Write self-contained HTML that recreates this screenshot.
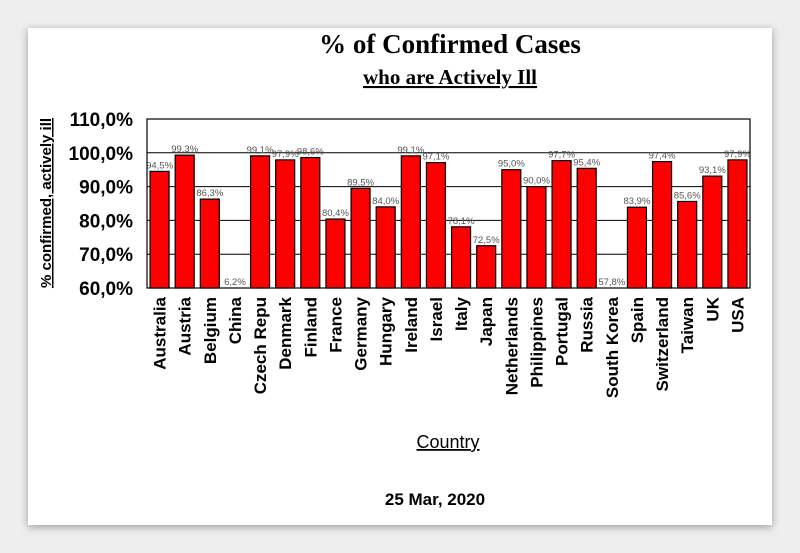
<!DOCTYPE html>
<html><head><meta charset="utf-8"><style>
html,body{margin:0;padding:0;background:#eeeeee;width:800px;height:553px;overflow:hidden}
#card{position:absolute;left:28px;top:28px;width:744px;height:497px;background:#fff;box-shadow:0 2px 8px rgba(0,0,0,0.35)}
svg{position:absolute;left:0;top:0}
</style></head><body>
<div id="card"></div>
<svg id="chart" width="800" height="553" font-family="Liberation Sans, sans-serif">
<text x="450" y="53" text-anchor="middle" font-family="Liberation Serif, serif" font-weight="bold" font-size="27">% of Confirmed Cases</text>
<text x="450" y="84" text-anchor="middle" font-family="Liberation Serif, serif" font-weight="bold" font-size="21" text-decoration="underline">who are Actively Ill</text>
<text transform="translate(51,203) rotate(-90)" text-anchor="middle" font-size="15" font-weight="bold" text-decoration="underline">% confirmed, actively ill</text>
<text x="448" y="448" text-anchor="middle" font-size="18" text-decoration="underline">Country</text>
<text x="435" y="505" text-anchor="middle" font-size="17" font-weight="bold">25 Mar, 2020</text>
<g id="grid"></g><g id="bars"></g><g id="labels"></g><g id="axes"></g>
</svg>
<script>
const categories=["Australia","Austria","Belgium","China","Czech Repu","Denmark","Finland","France","Germany","Hungary","Ireland","Israel","Italy","Japan","Netherlands","Philippines","Portugal","Russia","South Korea","Spain","Switzerland","Taiwan","UK","USA"];
const values=[94.5,99.3,86.3,6.2,99.1,97.9,98.6,80.4,89.5,84.0,99.1,97.1,78.1,72.5,95.0,90.0,97.7,95.4,57.8,83.9,97.4,85.6,93.1,97.9];
const yTicks=[60,70,80,90,100,110];
const yTickLabels=["60,0%","70,0%","80,0%","90,0%","100,0%","110,0%"];
const NS="http://www.w3.org/2000/svg";
const X0=147,X1=750,Y0=288,Y1=119,YMIN=60,YMAX=110;
function y(v){return Y0-(Math.max(YMIN,Math.min(YMAX,v))-YMIN)/(YMAX-YMIN)*(Y0-Y1);}
const step=(X1-X0)/categories.length;
function xc(i){return X0+step*(i+0.5);}
function mk(tag,attrs,parent,txt){const e=document.createElementNS(NS,tag);for(const k in attrs)e.setAttribute(k,attrs[k]);if(txt!==undefined)e.textContent=txt;document.getElementById(parent).appendChild(e);return e;}
yTicks.forEach((t,i)=>{
  const g=mk("line",{x1:X0,x2:X1,y1:y(t),y2:y(t),stroke:"#000","stroke-width":1},"grid");
  
  
  const l=mk("text",{x:133,y:y(t)+7,"text-anchor":"end","font-size":19,"font-weight":"bold"},"axes",yTickLabels[i]);
  
  
});
const frame=mk("rect",{x:X0,y:Y1,width:X1-X0,height:Y0-Y1,fill:"none",stroke:"#000","stroke-width":1.2},"axes");


const bw=19;
categories.forEach((c,i)=>{
  const v=values[i];
  if(v>YMIN){
    const b=mk("rect",{x:xc(i)-bw/2,y:y(v),width:bw,height:Y0-y(v),fill:"#ff0000",stroke:"#000","stroke-width":1.2},"bars");
    
    
  }
  const vl=mk("text",{x:xc(i),y:(v>YMIN?y(v):Y0)-3,"text-anchor":"middle","font-size":9.5,fill:"#555"},"labels",v.toFixed(1).replace('.',',')+'%');
  
  
  const cl=mk("text",{transform:"translate("+(xc(i)+6)+",297) rotate(-90)","text-anchor":"end","font-size":17,"font-weight":"bold"},"labels",c);
  
  
});
</script>
</body></html>
